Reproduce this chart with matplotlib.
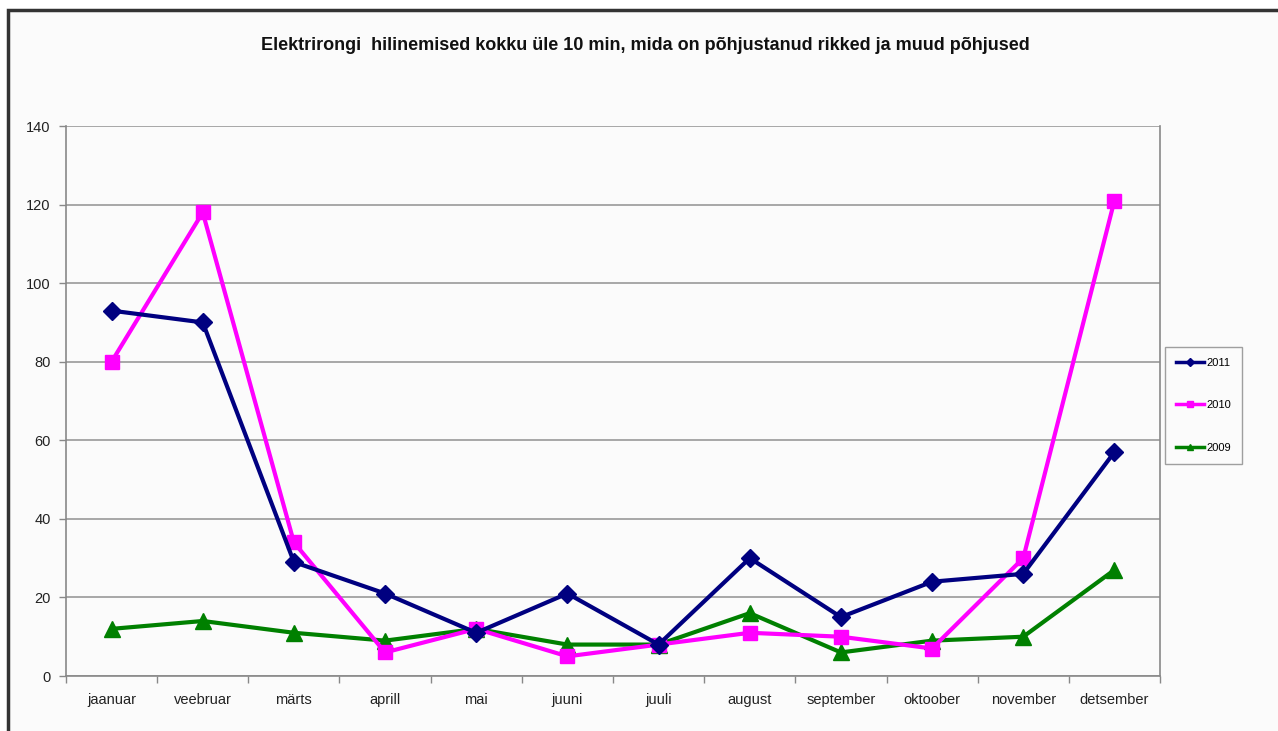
import matplotlib
matplotlib.use("Agg")
import matplotlib.pyplot as plt
from matplotlib.patches import Rectangle
from matplotlib.lines import Line2D

plt.rcParams['font.family'] = ['Liberation Sans', 'DejaVu Sans']

months = ["jaanuar", "veebruar", "märts", "aprill", "mai", "juuni", "juuli",
          "august", "september", "oktoober", "november", "detsember"]
s2011 = [93, 90, 29, 21, 11, 21, 8, 30, 15, 24, 26, 57]
s2010 = [80, 118, 34, 6, 12, 5, 8, 11, 10, 7, 30, 121]
s2009 = [12, 14, 11, 9, 12, 8, 8, 16, 6, 9, 10, 27]
yticks = [0, 20, 40, 60, 80, 100, 120, 140]
title = "Elektrirongi  hilinemised kokku üle 10 min, mida on põhjustanud rikked ja muud põhjused"

W, H = 1278, 731
fig = plt.figure(figsize=(W/100, H/100), dpi=100)
fig.patch.set_facecolor('white')
# chart frame
fig.patches.append(Rectangle((8/W, -0.01), 1.0, 1 - 10/H + 0.01, transform=fig.transFigure,
                             facecolor='#fbfbfb', edgecolor='#333333', linewidth=2.5, zorder=-5))

ax = fig.add_axes([66/W, 1 - 676/H, (1160-66)/W, (676-126)/H])
ax.set_facecolor('#fbfbfb')
x = list(range(len(months)))
ax.plot(x, s2011, color='#000080', marker='D', markersize=9, linewidth=3, label='2011', zorder=5)
ax.plot(x, s2010, color='#ff00ff', marker='s', markersize=10, linewidth=3, label='2010', zorder=4)
ax.plot(x, s2009, color='#008000', marker='^', markersize=11, linewidth=3, label='2009', zorder=3)

ax.set_xlim(-0.5, len(months) - 0.5)
ax.set_ylim(0, 140)
ax.set_yticks(yticks)
ax.set_yticklabels([str(v) for v in yticks], fontsize=10.5, color='#222222')
ax.set_xticks(x)
ax.set_xticklabels(months, fontsize=10.5, color='#222222')
ax.tick_params(axis='x', which='major', length=0, pad=12)
ax.set_xticks([i - 0.5 for i in range(len(months) + 1)], minor=True)
ax.tick_params(axis='x', which='minor', length=5, color='#888888', width=1)
ax.tick_params(axis='y', length=5, color='#888888', width=1, pad=6)
ax.grid(axis='y', color='#999999', linewidth=1.2)
ax.set_axisbelow(True)
for side in ['left', 'bottom', 'right']:
    ax.spines[side].set_color('#888888')
    ax.spines[side].set_linewidth(1.2)
ax.spines['top'].set_visible(False)

fig.text(645/W, 1 - 45/H, title, ha='center', va='center', fontsize=13, fontweight='bold',
         color='#111111')

handles = [Line2D([0], [0], color='#000080', marker='D', markersize=4, linewidth=2.5),
           Line2D([0], [0], color='#ff00ff', marker='s', markersize=5, linewidth=2.5),
           Line2D([0], [0], color='#008000', marker='^', markersize=5, linewidth=2.5)]
leg = fig.legend(handles, ['2011', '2010', '2009'], loc='upper left',
                 bbox_to_anchor=(1165/W, 1 - 347/H), borderaxespad=0, fontsize=8, frameon=True,
                 fancybox=False, edgecolor='#888888', labelspacing=2.9,
                 handlelength=2.5, handletextpad=0.2, borderpad=1.0)
leg.get_frame().set_linewidth(1)
leg.get_frame().set_facecolor('#fbfbfb')

fig.savefig('out.png', dpi=100)
